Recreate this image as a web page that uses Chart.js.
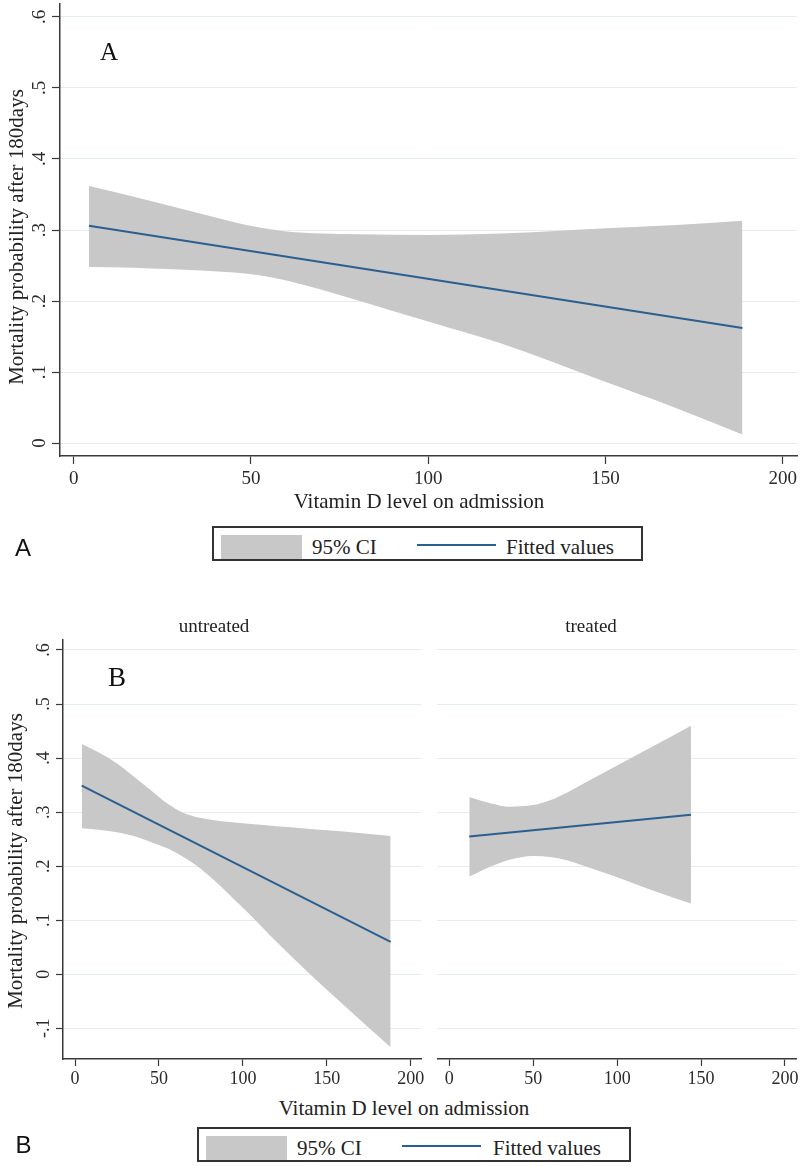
<!DOCTYPE html>
<html>
<head>
<meta charset="utf-8">
<script src="https://cdn.jsdelivr.net/npm/chart.js@4.4.1/dist/chart.umd.min.js"></script>
<style>
html,body{margin:0;padding:0;background:#fff;}
body{width:800px;height:1166px;position:relative;overflow:hidden;font-family:"Liberation Serif","Times New Roman",serif;color:#222;}
canvas{position:absolute;}
.t{position:absolute;white-space:nowrap;line-height:1;transform:translate(-50%,-50%);}
.rot{transform:translate(-50%,-50%) rotate(-90deg);}
.sans{font-family:"Liberation Sans",Arial,sans-serif;color:#111;}
.leg{position:absolute;box-sizing:border-box;border:2px solid #333;background:#fff;height:35px;}
.leg .sw{position:absolute;left:7px;top:7px;width:81px;bottom:0;background:#c8c8c8;}
.leg .lt{position:absolute;top:8.5px;font-size:21px;line-height:1;white-space:nowrap;color:#222;}
.leg .ln{position:absolute;top:16px;height:2px;width:79px;left:203px;background:#2a5f8f;}
</style>
</head>
<body>
<canvas id="cA" width="800" height="520" style="left:0;top:0;width:800px;height:520px"></canvas>
<canvas id="cBU" width="435" height="465" style="left:0;top:630px;width:435px;height:465px"></canvas>
<canvas id="cBT" width="370" height="465" style="left:430px;top:630px;width:370px;height:465px"></canvas>

<!-- Panel A texts -->
<div class="t" style="left:109px;top:51px;font-size:25px;color:#111">A</div>
<div class="t rot" style="left:15.5px;top:237px;font-size:21px">Mortality probability after 180days</div>
<div class="t" style="left:419px;top:501px;font-size:21px">Vitamin D level on admission</div>
<div class="leg" style="left:212px;top:526px;width:431px;">
  <div class="sw"></div>
  <div class="lt" style="left:98px">95% CI</div>
  <div class="ln"></div>
  <div class="lt" style="left:292px">Fitted values</div>
</div>
<div class="t sans" style="left:23px;top:547.5px;font-size:24px">A</div>

<!-- Panel B texts -->
<div class="t" style="left:214px;top:625px;font-size:19px">untreated</div>
<div class="t" style="left:591px;top:625px;font-size:19px">treated</div>
<div class="t" style="left:117px;top:677px;font-size:27px;color:#111">B</div>
<div class="t rot" style="left:14.5px;top:861px;font-size:21px">Mortality probability after 180days</div>
<div class="t" style="left:404px;top:1108px;font-size:21px">Vitamin D level on admission</div>
<div class="leg" style="left:197px;top:1127px;width:434px;">
  <div class="sw"></div>
  <div class="lt" style="left:98px">95% CI</div>
  <div class="ln"></div>
  <div class="lt" style="left:294px">Fitted values</div>
</div>
<div class="t sans" style="left:23.5px;top:1145px;font-size:24px">B</div>

<script>
// ---------- DATA ----------
const xTicks = [0, 50, 100, 150, 200];
const yTicksA = [0, 0.1, 0.2, 0.3, 0.4, 0.5, 0.6];
const yTicksB = [-0.1, 0, 0.1, 0.2, 0.3, 0.4, 0.5, 0.6];

// Panel A (all patients)
const xA = [4.3, 17, 26.5, 35.9, 45.3, 52.8, 60, 70, 80, 100, 120.6, 148.9, 170, 188.6];
const upperA = [0.362, 0.347, 0.335, 0.323, 0.311, 0.303, 0.298, 0.295, 0.294, 0.293, 0.295, 0.302, 0.307, 0.313];
const lowerA = [0.248, 0.247, 0.245, 0.243, 0.240, 0.236, 0.229, 0.216, 0.201, 0.171, 0.140, 0.088, 0.049, 0.012];
const fitXA = [4.3, 188.6];
const fitA = [0.306, 0.162];

// Panel B, untreated
const xBU = [4, 15, 25, 35, 45, 55, 65, 75, 85, 95, 105, 120, 140, 160, 188];
const upperBU = [0.426, 0.409, 0.390, 0.366, 0.341, 0.316, 0.298, 0.289, 0.284, 0.281, 0.278, 0.274, 0.269, 0.264, 0.256];
const lowerBU = [0.270, 0.267, 0.263, 0.256, 0.245, 0.233, 0.216, 0.195, 0.168, 0.138, 0.108, 0.060, 0.000, -0.057, -0.135];
const fitXBU = [4, 188];
const fitBU = [0.349, 0.060];

// Panel B, treated
const xBT = [11.9, 25, 36, 50, 60, 70, 80, 95, 110, 125, 144];
const upperBT = [0.328, 0.316, 0.310, 0.313, 0.322, 0.336, 0.353, 0.378, 0.403, 0.428, 0.460];
const lowerBT = [0.181, 0.200, 0.212, 0.219, 0.217, 0.211, 0.201, 0.185, 0.168, 0.151, 0.131];
const fitXBT = [11.9, 144];
const fitBT = [0.255, 0.295];

// ---------- STYLE ----------
const SERIF = "'Liberation Serif','Times New Roman',serif";
const GRID = '#e3edf2';
const AXIS = '#3a3a3a';
const CI = '#c8c8c8';
const FIT = '#2a5f8f';

function pts(xs, ys) { return xs.map((x, i) => ({ x: x, y: ys[i] })); }
function fmtY(v) {
  if (Math.abs(v) < 1e-9) return '0';
  const s = Math.abs(v).toFixed(1).replace(/^0/, '');
  return (v < 0 ? '-' : '') + s;
}
function zeroPad(s) { s.paddingLeft = 0; s.paddingRight = 0; s.paddingTop = 0; s.paddingBottom = 0; }

function makeChart(id, c) {
  return new Chart(document.getElementById(id), {
    type: 'scatter',
    data: {
      datasets: [
        { label: 'lower', order: 2, data: pts(c.xs, c.lower), showLine: true, borderWidth: 0, borderColor: 'rgba(0,0,0,0)',
          pointRadius: 0, fill: false, cubicInterpolationMode: 'monotone' },
        { label: '95% CI', order: 1, data: pts(c.xs, c.upper), showLine: true, borderWidth: 0, borderColor: 'rgba(0,0,0,0)',
          pointRadius: 0, fill: '-1', backgroundColor: CI, cubicInterpolationMode: 'monotone' },
        { label: 'Fitted values', order: 0, data: pts(c.fitX, c.fit), showLine: true, borderColor: FIT, borderWidth: 2,
          pointRadius: 0, fill: false }
      ]
    },
    options: {
      responsive: false,
      devicePixelRatio: 1,
      animation: false,
      events: [],
      layout: { autoPadding: false, padding: c.pad },
      plugins: { legend: { display: false }, tooltip: { enabled: false } },
      scales: {
        x: {
          type: 'linear', min: c.xMin, max: c.xMax,
          afterBuildTicks: s => { s.ticks = xTicks.map(v => ({ value: v })); },
          afterFit: s => { s.height = c.xHeight; zeroPad(s); },
          border: { display: true, color: AXIS, width: 1.5 },
          grid: { display: true, drawOnChartArea: false, drawTicks: true, tickLength: c.tickLen, tickColor: AXIS, tickWidth: 1.2 },
          ticks: { font: { family: SERIF, size: c.fs, lineHeight: 1 }, color: '#2a2a2a', padding: c.xLabPad,
                   maxRotation: 0, minRotation: 0, autoSkip: false }
        },
        y: {
          type: 'linear', min: c.yMin, max: c.yMax,
          afterBuildTicks: s => { s.ticks = c.yTicks.map(v => ({ value: v })); },
          afterFit: s => { s.width = c.yWidth; zeroPad(s); },
          border: { display: c.showY, color: AXIS, width: 1.5 },
          grid: { display: true, color: GRID, lineWidth: 1, drawTicks: c.showY, tickLength: c.tickLen, tickColor: AXIS, tickWidth: 1.2 },
          ticks: { display: c.showY, font: { family: SERIF, size: c.fs, lineHeight: 1 }, color: '#2a2a2a',
                   minRotation: 90, maxRotation: 90, crossAlign: 'center', padding: c.yLabPad,
                   callback: v => fmtY(v) }
        }
      }
    }
  });
}

makeChart('cA', {
  xs: xA, upper: upperA, lower: lowerA, fitX: fitXA, fit: fitA,
  xMin: -3.86, xMax: 204.0, yMin: -0.0183, yMax: 0.6183, yTicks: yTicksA,
  yWidth: 60, xHeight: 64, pad: { left: 0, right: 3, top: 4, bottom: 0 },
  showY: true, fs: 19, tickLen: 8, yLabPad: 4.9, xLabPad: 5.5
});

makeChart('cBU', {
  xs: xBU, upper: upperBU, lower: lowerBU, fitX: fitXBU, fit: fitBU,
  xMin: -7.15, xMax: 206.5, yMin: -0.1567, yMax: 0.6185, yTicks: yTicksB,
  yWidth: 63, xHeight: 36, pad: { left: 0, right: 13.3, top: 10, bottom: 0 },
  showY: true, fs: 18, tickLen: 7, yLabPad: 2.3, xLabPad: 4
});

makeChart('cBT', {
  xs: xBT, upper: upperBT, lower: lowerBT, fitX: fitXBT, fit: fitBT,
  xMin: -7.15, xMax: 207.0, yMin: -0.1567, yMax: 0.6185, yTicks: yTicksB,
  yWidth: 0, xHeight: 36, pad: { left: 7.3, right: 3.3, top: 10, bottom: 0 },
  showY: false, fs: 18, tickLen: 7, yLabPad: 0, xLabPad: 4
});
</script>
</body>
</html>
